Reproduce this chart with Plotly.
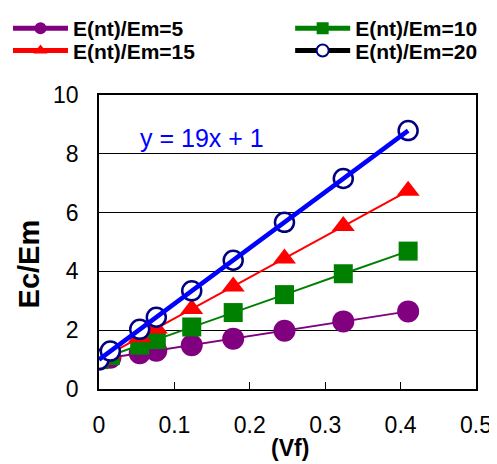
import plotly.graph_objects as go

vf = [0, 0.015, 0.054, 0.076, 0.123, 0.178, 0.246, 0.324, 0.41]
ratio_5 = [1, 1.06, 1.22, 1.30, 1.49, 1.71, 1.98, 2.30, 2.64]
ratio_10 = [1, 1.14, 1.49, 1.68, 2.11, 2.60, 3.21, 3.92, 4.69]
ratio_15 = [1, 1.21, 1.76, 2.06, 2.72, 3.49, 4.44, 5.54, 6.74]
ratio_20 = [1, 1.29, 2.03, 2.44, 3.34, 4.38, 5.67, 7.16, 8.79]
names = ["E(nt)/Em=5", "E(nt)/Em=10", "E(nt)/Em=15", "E(nt)/Em=20"]
trend_slope = 19
trend_intercept = 1
trend_label = "y = 19x + 1"
x_ticks = [0, 0.1, 0.2, 0.3, 0.4, 0.5]
y_ticks = [0, 2, 4, 6, 8, 10]

FONT = "Liberation Sans, Arial, sans-serif"

fig = go.Figure()
fig.add_trace(go.Scatter(x=vf, y=ratio_5, name=names[0], mode="lines+markers",
                         legend="legend",
                         line=dict(color="#800080", width=2),
                         marker=dict(symbol="circle", size=22, color="#800080")))
fig.add_trace(go.Scatter(x=vf, y=ratio_10, name=names[1], mode="lines+markers",
                         legend="legend2",
                         line=dict(color="#008000", width=2),
                         marker=dict(symbol="square", size=19, color="#008000")))
fig.add_trace(go.Scatter(x=vf, y=ratio_15, name=names[2], mode="lines+markers",
                         legend="legend3",
                         line=dict(color="#FF0000", width=2),
                         marker=dict(symbol="triangle-up", size=20, color="#FF0000")))
fig.add_trace(go.Scatter(x=vf, y=ratio_20, name=names[3], mode="lines+markers",
                         legend="legend4",
                         line=dict(color="#000000", width=2),
                         marker=dict(symbol="circle", size=19, color="white",
                                     line=dict(color="#000080", width=2.5))))
tx = [vf[0], vf[-1]]
ty = [trend_slope * v + trend_intercept for v in tx]
fig.add_trace(go.Scatter(x=tx, y=ty, mode="lines", showlegend=False,
                         line=dict(color="#0000FF", width=4.5), hoverinfo="skip"))

fig.add_annotation(x=0.1366, y=8.55, xref="x", yref="y", text=trend_label,
                   showarrow=False, font=dict(family=FONT, size=25, color="#0000FF"))
fig.add_annotation(x=-0.1857, y=0.427, xref="paper", yref="paper", text="Ec/Em",
                   textangle=-90, showarrow=False, xanchor="center", yanchor="middle",
                   font=dict(family=FONT, size=29, color="black", weight="bold"))
fig.add_annotation(x=0.507, y=-0.2007, xref="paper", yref="paper", text="(Vf)",
                   showarrow=False, xanchor="center", yanchor="middle",
                   font=dict(family=FONT, size=23, color="black", weight="bold"))

legend_style = dict(orientation="v", xref="container", yref="container",
                    yanchor="top", xanchor="left", itemwidth=55,
                    font=dict(family=FONT, size=21, color="black", weight="bold"),
                    bgcolor="rgba(0,0,0,0)", itemsizing="constant")

# page body has an 8px margin, so the figure is sized to fit the window
fig.update_layout(
    width=489, height=456,
    margin=dict(l=91, r=21, t=87, b=75, autoexpand=False),
    paper_bgcolor="white", plot_bgcolor="white",
    font=dict(family=FONT, color="black"),
    legend=dict(legend_style, x=0.0, y=1.0),
    legend2=dict(legend_style, x=0.577, y=1.0),
    legend3=dict(legend_style, x=0.0, y=0.951),
    legend4=dict(legend_style, x=0.577, y=0.951),
    xaxis=dict(range=[0, 0.5], tickvals=x_ticks, ticktext=[str(v) for v in x_ticks],
               ticks="inside", ticklen=7, tickcolor="black", showgrid=False,
               showline=True, linecolor="black", linewidth=1.5, mirror=True,
               zeroline=False, tickfont=dict(size=23, family=FONT),
               ticklabelstandoff=15, automargin=False),
    yaxis=dict(range=[0, 10], tickvals=y_ticks, ticks="", showgrid=True,
               gridcolor="black", gridwidth=1,
               showline=True, linecolor="black", linewidth=1.5, mirror=True,
               zeroline=False, tickfont=dict(size=23, family=FONT),
               ticklabelstandoff=14, automargin=False),
)

fig.write_html("out.html")
